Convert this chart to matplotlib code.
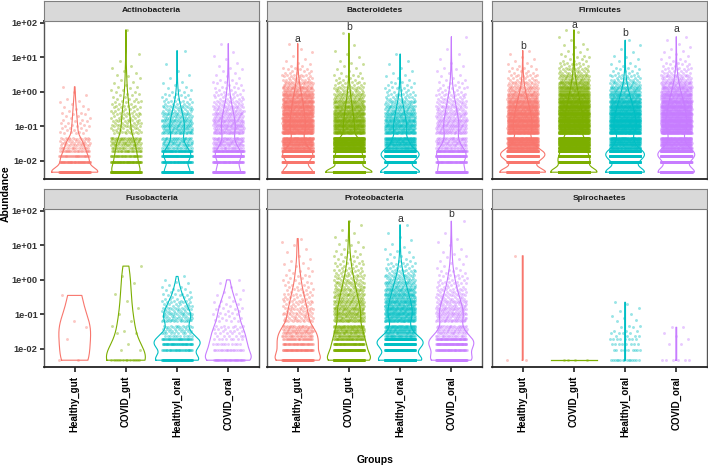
import numpy as np
import matplotlib

matplotlib.use("Agg")
import matplotlib.pyplot as plt
from matplotlib.ticker import FixedLocator, NullLocator

plt.rcParams["font.family"] = ["Liberation Sans", "DejaVu Sans"]

PHYLA = ["Actinobacteria", "Bacteroidetes", "Firmicutes",
         "Fusobacteria", "Proteobacteria", "Spirochaetes"]
GROUPS = ["Healthy_gut", "COVID_gut", "Healthyl_oral", "COVID_oral"]
COLORS = ["#F8766D", "#7CAE00", "#00BFC4", "#C77CFF"]

# abundance levels: discrete low end (read counts), then 0.05 decade steps
LOW_LEVELS = [0.0047, 0.0094, 0.0141, 0.0188, 0.0235, 0.0282, 0.0329, 0.0376, 0.0423, 0.047]
HIGH_LEVELS = [0.063, 0.071, 0.079, 0.089, 0.1, 0.112, 0.126, 0.141, 0.158, 0.178,
               0.2, 0.224, 0.251, 0.282, 0.316, 0.355, 0.398, 0.447, 0.501, 0.562,
               0.631, 0.708, 0.794, 0.891, 1.0, 1.12, 1.26, 1.41, 1.58, 1.78,
               2.0, 2.24, 2.51, 2.82, 3.16, 3.55, 3.98, 4.47, 5.01, 5.62,
               6.31, 7.08, 7.94, 8.91, 10.0, 11.2, 12.6, 14.1, 15.8, 17.8,
               20.0, 22.4, 25.1, 28.2, 31.6, 35.5, 39.8, 44.7, 50.1, 56.2, 63.1]
LEVELS = LOW_LEVELS + HIGH_LEVELS

# samples per level, per group (Healthy_gut, COVID_gut, Healthyl_oral, COVID_oral)
ACTINOBACTERIA = [
    [140, 60, 35, 22, 16, 12, 10, 8, 8, 7,
     3, 3, 3, 3, 3, 2, 3, 2, 2, 2, 2, 2, 2, 1, 2, 1, 1, 1, 1, 1, 1, 0, 1, 0, 1, 0, 0, 1],
    [135, 68, 40, 27, 20, 16, 15, 14, 14, 14,
     6, 6, 6, 6, 6, 6, 6, 5, 5, 5, 5, 5, 5,
     4, 4, 4, 4, 3, 3, 3, 3, 2, 2, 2, 2,
     2, 1, 2, 1, 1, 1, 1, 1, 1, 1, 1, 1,
     0, 1, 1, 0, 0, 1, 0, 0, 0, 1, 0, 0,
     0, 0, 0, 0, 0, 0, 0, 0, 0, 0, 0, 1],
    [167, 67, 92, 67, 20, 17, 15, 15, 13, 13,
     15, 15, 15, 15, 14, 13, 13, 12, 12, 11, 11, 10, 9, 8, 8, 7, 6, 5, 4, 4, 3, 3, 3, 2, 2,
     2, 1, 1, 1, 1, 1, 0, 1, 0, 1, 0, 1, 0, 0, 0, 1, 0, 0, 0, 0, 0, 0, 0, 1],
    [200, 80, 110, 80, 24, 20, 18, 18, 16, 16,
     18, 17, 17, 17, 16, 16, 15, 15, 14, 14, 13, 12, 12, 11, 10, 9, 8, 7, 6, 6, 5, 5, 4, 4, 3,
     3, 3, 2, 2, 2, 2, 2, 1, 1, 1, 1, 1, 1, 1, 1, 0, 1, 0, 1, 0, 1, 0, 1, 0, 0, 0, 0, 1],
]
BACTEROIDETES = [
    [600, 240, 330, 240, 72, 60, 54, 54, 48, 48,
     50, 50, 50, 50, 50, 49, 48, 46, 45, 44, 42, 41, 40, 39, 38, 36, 35, 33, 31, 30, 28, 27,
     25, 23, 20, 18, 16, 14, 12, 10, 9, 8, 6, 5, 5, 4, 3, 3, 2, 2, 1, 1, 1, 1, 0, 1, 0, 1, 0,
     1, 0, 0, 1],
    [880, 440, 264, 176, 132, 106, 97, 88, 88, 88,
     40, 40, 39, 38, 37, 36, 35, 34, 33, 32, 31, 29, 28, 26, 24, 23, 21, 19, 17, 16, 14, 13,
     11, 10, 9, 8, 7, 6, 5, 4, 4, 3, 3, 2, 2, 2, 1, 1, 1, 1, 1, 1, 1, 0, 1, 0, 1, 0, 1,
     0, 0, 1, 0, 0, 0, 0, 0, 0, 1],
    [440, 176, 242, 176, 53, 44, 40, 40, 35, 35,
     28, 27, 26, 26, 25, 24, 23, 22, 21, 20, 19, 18, 16, 15, 14, 12, 11, 10, 9, 8, 7, 6, 5,
     4, 4, 3, 3, 3, 2, 2, 2, 1, 1, 1, 1, 1, 1, 0, 1, 0, 1, 0, 1, 0, 0, 0, 1],
    [180, 72, 99, 72, 22, 18, 16, 16, 14, 14,
     15, 15, 15, 14, 14, 14, 13, 13, 12, 12, 11, 11, 10, 10, 9, 9, 8, 7, 7, 6, 6, 5, 5, 4, 4,
     3, 3, 3, 2, 2, 2, 2, 1, 1, 1, 1, 1, 1, 1, 1, 0, 1, 0, 1, 0, 0, 1, 0, 0,
     1, 0, 0, 0, 0, 0, 0, 1],
]
FIRMICUTES = [
    [780, 312, 429, 312, 94, 78, 70, 70, 62, 62,
     55, 55, 55, 55, 54, 53, 52, 50, 50, 49, 47, 45, 44, 42, 40, 37, 35, 33, 30, 28, 25, 23,
     20, 18, 16, 14, 12, 11, 9, 8, 7, 6, 5, 4, 4, 3, 3, 2, 2, 2, 1, 1, 1, 1, 1, 0, 1, 0, 1],
    [1140, 570, 342, 228, 171, 137, 125, 114, 114, 114,
     75, 75, 75, 75, 74, 73, 72, 71, 70, 69, 68, 66, 64, 62, 60, 57, 55, 52, 50, 47, 44, 41,
     38, 35, 32, 29, 27, 24, 22, 19, 17, 15, 13, 11, 10, 8, 7, 6, 5, 4, 4, 3, 3, 2, 2, 2, 2,
     1, 1, 1, 1, 1, 1, 0, 1, 0, 1, 0, 0, 1, 1],
    [640, 256, 352, 256, 77, 64, 58, 58, 51, 51,
     60, 60, 60, 60, 59, 58, 57, 56, 55, 53, 52, 50, 49, 47, 45, 42, 40, 37, 35, 32, 29, 26,
     24, 21, 19, 17, 15, 13, 11, 9, 8, 7, 6, 5, 4, 3, 3, 2, 2, 2, 1, 1, 1, 1, 1, 1, 0, 1, 0,
     1, 0, 1, 0, 0, 1],
    [670, 268, 368, 268, 80, 67, 60, 60, 54, 54,
     60, 60, 60, 60, 60, 60, 59, 58, 57, 56, 55, 54, 52, 51, 49, 47, 45, 43, 41, 38, 36, 33,
     31, 28, 26, 23, 21, 19, 17, 15, 13, 12, 10, 9, 7, 6, 5, 4, 4, 3, 3, 2, 2, 2, 1, 1, 1,
     1, 1, 1, 1, 0, 1, 0, 1, 0, 1],
]
FUSOBACTERIA = [
    [2, 0, 0, 1, 0, 0, 0, 0, 1, 0,
     1, 0, 0, 0, 0, 0, 0, 0, 0, 0, 0, 0, 0, 0, 0, 1],
    [13, 2, 1, 0, 0, 2, 1, 0, 0, 1,
     1, 0, 0, 0, 1, 0, 0, 0, 1, 0,
     0, 0, 1, 0, 0, 0, 1, 0, 0, 0,
     0, 0, 1, 0, 0, 0, 1, 0, 0, 0,
     0, 0, 1],
    [91, 36, 50, 36, 11, 9, 8, 8, 7, 7,
     10, 10, 9, 9, 8, 8, 7, 7, 6, 6, 5, 5, 4, 4, 3, 3, 3, 2, 2, 2, 2, 1, 1, 1, 1, 0, 1],
    [38, 19, 11, 8, 6, 5, 4, 4, 4, 4,
     3, 2, 3, 2, 3, 2, 2, 2, 2, 2, 2, 1, 2, 1, 1, 1, 1, 1, 1, 0, 1, 0, 1, 0, 1],
]
PROTEOBACTERIA = [
    [111, 55, 39, 28, 22, 18, 16, 13, 12, 11,
     8, 8, 8, 7, 7, 7, 6, 6, 6, 5, 5, 5, 5, 5, 4, 4, 4, 3, 3, 3, 3, 3, 2, 2, 2, 2, 2, 2, 1,
     2, 1, 1, 1, 1, 1, 1, 1, 0, 1, 0, 1, 0, 1, 0, 1, 0, 1, 0, 1],
    [222, 111, 67, 44, 33, 27, 24, 22, 22, 22,
     18, 17, 17, 17, 16, 16, 16, 15, 15, 14, 14, 13, 13, 12, 12, 11, 11, 10, 10, 9, 9, 8, 8,
     7, 7, 6, 6, 5, 5, 4, 4, 4, 3, 3, 3, 3, 2, 2, 2, 2, 1, 2, 1, 1, 1, 1, 1, 1, 0,
     1, 0, 1, 0, 1, 0, 0, 1, 0, 1],
    [330, 132, 182, 132, 40, 33, 30, 30, 26, 26,
     28, 27, 27, 27, 26, 26, 26, 25, 25, 24, 24, 23, 22, 21, 20, 19, 18, 17, 16, 15, 14, 13,
     12, 11, 10, 9, 8, 7, 6, 5, 5, 4, 4, 3, 3, 2, 2, 2, 1, 1, 1, 1, 1, 1, 0, 1, 0, 1, 0,
     1, 0, 1, 0, 0, 0, 0, 1],
    [148, 59, 81, 59, 18, 15, 13, 13, 12, 12,
     13, 12, 12, 12, 12, 11, 11, 11, 10, 10, 9, 9, 8, 8, 7, 7, 6, 6, 5, 5, 5, 4, 4, 4, 3,
     3, 3, 3, 2, 2, 2, 2, 1, 1, 1, 1, 1, 1, 1, 1, 1, 0, 1, 0, 1, 0, 1, 0, 1,
     0, 0, 1, 0, 0, 0, 0, 0, 0, 1],
]
SPIROCHAETES = [
    [2, 0, 0, 0, 0, 0, 0, 0, 0, 0,
     0, 0, 0, 0, 0, 0, 0, 0, 0, 0,
     0, 0, 0, 0, 0, 0, 0, 0, 0, 0,
     0, 0, 0, 0, 0, 0, 0, 0, 0, 0,
     0, 0, 0, 0, 0, 0, 0, 0,
     1],
    [4],
    [15, 10, 8, 8, 4, 4, 3, 0, 2, 2,
     1, 1, 1, 1, 1, 0, 1, 0, 1, 0, 1, 1],
    [6, 0, 2, 1, 1, 1, 0, 0, 2],
]
PANEL_COUNTS = [ACTINOBACTERIA, BACTEROIDETES, FIRMICUTES,
                FUSOBACTERIA, PROTEOBACTERIA, SPIROCHAETES]

# significance letters: (panel, group, letter, abundance where it sits)
LETTERS = [
    (1, 0, "a", 34), (1, 1, "b", 75),
    (2, 0, "b", 22), (2, 1, "a", 87), (2, 2, "b", 50), (2, 3, "a", 66),
    (4, 2, "a", 60), (4, 3, "b", 79),
]

YTICKS = [0.01, 0.1, 1, 10, 100]
YTICK_LABELS = ["1e-02", "1e-01", "1e+00", "1e+01", "1e+02"]

W, H = 708, 467
COL_LEFT = [44, 267, 492]
PANEL_W = 215
ROW_TOP = [21, 209]
PANEL_H = 158
STRIP_H = 20

GOLDEN = 0.6180339887


def density_outline(logs):
    """Gaussian KDE (R's nrd0 bandwidth) over the data range."""
    n = logs.size
    sd = logs.std(ddof=1)
    q75, q25 = np.percentile(logs, [75, 25])
    lo = min(sd, (q75 - q25) / 1.34)
    if lo <= 0:
        lo = sd if sd > 0 else 1.0
    bw = 0.9 * lo * n ** -0.2
    grid = np.linspace(logs.min(), logs.max(), 512)
    uniq, cnt = np.unique(logs, return_counts=True)
    z = (grid[:, None] - uniq[None, :]) / bw
    dens = (cnt[None, :] * np.exp(-0.5 * z ** 2)).sum(axis=1) / (n * bw * np.sqrt(2 * np.pi))
    return grid, dens


def draw_panel(ax, counts):
    values = [np.repeat(LEVELS[:len(c)], c[:len(LEVELS)]) for c in counts]
    outlines = []
    for v in values:
        if v.min() == v.max():
            outlines.append(None)
        else:
            outlines.append(density_outline(np.log10(v)))
    has_flat = any(o is None for o in outlines)
    peak = max(o[1].max() for o in outlines if o is not None)

    for i, v in enumerate(values):
        k = np.arange(v.size)
        offs = 0.3 * (2 * ((k * GOLDEN + 0.31 * i) % 1.0) - 1)
        ax.scatter(i + 1 + offs, v, s=4.5, color=COLORS[i], alpha=0.4,
                   linewidths=0, zorder=2)

    for i, v in enumerate(values):
        x0 = i + 1
        if outlines[i] is None:
            ax.plot([x0 - 0.45, x0 + 0.45], [v[0], v[0]], color=COLORS[i], lw=0.9, zorder=3)
            continue
        grid, dens = outlines[i]
        if has_flat:
            half = np.full_like(dens, 0.008)
        else:
            half = 0.45 * dens / peak
        xs = np.concatenate([x0 - half, (x0 + half)[::-1], [x0 - half[0]]])
        ys = 10 ** np.concatenate([grid, grid[::-1], [grid[0]]])
        ax.plot(xs, ys, color=COLORS[i], lw=0.8, zorder=3)


fig = plt.figure(figsize=(W / 100, H / 100), dpi=100)
axes = []
for p, name in enumerate(PHYLA):
    r, c = divmod(p, 3)
    left = COL_LEFT[c] / W
    bottom = 1 - (ROW_TOP[r] + PANEL_H) / H
    ax = fig.add_axes([left, bottom, PANEL_W / W, PANEL_H / H])
    axes.append(ax)
    ax.set_yscale("log")
    draw_panel(ax, PANEL_COUNTS[p])
    ax.set_xlim(0.4, 4.6)
    ax.set_ylim(10 ** -2.525, 10 ** 2.055)
    ax.yaxis.set_major_locator(FixedLocator(YTICKS))
    ax.yaxis.set_minor_locator(NullLocator())
    for side in ["left", "right"]:
        ax.spines[side].set_color("#555555")
        ax.spines[side].set_linewidth(1.0)
    for side in ["top", "bottom"]:
        ax.spines[side].set_color("#222222")
        ax.spines[side].set_linewidth(1.3)
    if c == 0:
        ax.set_yticklabels(YTICK_LABELS)
        ax.tick_params(axis="y", length=3, width=1.3, color="#333333",
                       labelsize=6.7, labelcolor="#333333", pad=1.5)
        for t in ax.get_yticklabels():
            t.set_fontweight("bold")
    else:
        ax.tick_params(axis="y", left=False, labelleft=False)
    ax.set_xticks([1, 2, 3, 4])
    if r == 1:
        ax.set_xticklabels(GROUPS, rotation=90, fontsize=7, fontweight="bold")
        ax.tick_params(axis="x", length=3.5, width=1.3, color="#333333", pad=3)
    else:
        ax.tick_params(axis="x", bottom=False, labelbottom=False)

    strip = fig.add_axes([left, 1 - ROW_TOP[r] / H, PANEL_W / W, STRIP_H / H])
    strip.set_facecolor("#D9D9D9")
    strip.set_xticks([])
    strip.set_yticks([])
    for s in strip.spines.values():
        s.set_color("#7F7F7F")
        s.set_linewidth(0.8)
    strip.text(0.5, 0.5, name, ha="center", va="center", fontsize=6,
               fontweight="bold", color="#1A1A1A", transform=strip.transAxes)

for p, g, letter, y in LETTERS:
    axes[p].text(g + 1, y, letter, ha="center", va="center", fontsize=7.5,
                 color="#333333", zorder=4)

fig.text(6 / W, 1 - 194 / H, "Abundance", rotation=90, ha="center", va="center",
         fontsize=7.5, fontweight="bold")
fig.text(375 / W, 1 - 460 / H, "Groups", ha="center", va="center",
         fontsize=7.5, fontweight="bold")

fig.savefig("out.png", dpi=100)
